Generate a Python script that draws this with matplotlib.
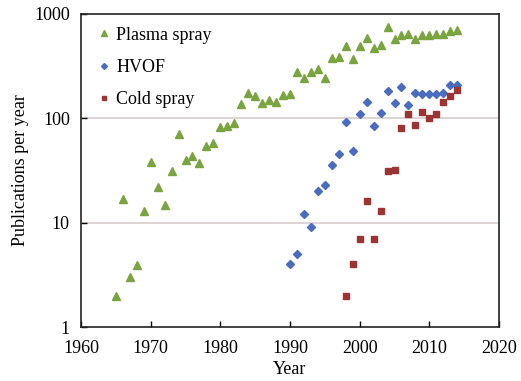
import numpy as np
import matplotlib.pyplot as plt
from matplotlib.ticker import FixedLocator, NullLocator

plt.rcParams['font.family'] = ['Liberation Serif', 'DejaVu Serif']

# publications per year, by process
plasma_years = list(range(1965, 2015))
plasma_counts = [2.0, 17, 3.0, 3.9, 12.8, 38, 22, 14.8, 31, 70,
                 40, 44, 37, 54, 58, 83, 84, 91, 137, 175,
                 163, 141, 150, 143, 167, 170, 280, 245, 280, 297,
                 242, 380, 385, 497, 372, 495, 589, 474, 503, 745,
                 575, 631, 638, 571, 626, 626, 645, 645, 683, 698]

hvof_years = list(range(1990, 2015))
hvof_counts = [4.0, 5.0, 12, 9.0, 20, 23, 36, 46, 93, 49,
               109, 143, 84, 112, 184, 140, 199, 135, 174, 172,
               172, 172, 176, 209, 210]

cold_years = list(range(1998, 2015))
cold_counts = [2.0, 4.0, 7.0, 16, 7.0, 13, 31, 32, 81, 109,
               86, 114, 100, 111, 143, 162, 186]

fig = plt.figure(figsize=(5.21, 3.81), dpi=100)
ax = fig.add_axes([0.1555, 0.1417, 0.8023, 0.8216])

ax.plot(plasma_years, plasma_counts, ls='none', marker='^', ms=5.5,
        color='#7aa440', label='Plasma spray')
ax.plot(hvof_years, hvof_counts, ls='none', marker='D', ms=3.8,
        color='#4a6cbf', label='HVOF')
ax.plot(cold_years, cold_counts, ls='none', marker='s', ms=4.3,
        color='#9c3434', label='Cold spray')

ax.set_yscale('log')
ax.set_xlim(1960, 2020)
ax.set_ylim(1, 1000)
ax.set_xticks(range(1960, 2021, 10))
ax.yaxis.set_major_locator(FixedLocator([1, 10, 100, 1000]))
ax.yaxis.set_minor_locator(NullLocator())
ax.set_yticklabels(['1', '10', '100', '1000'])
ax.tick_params(direction='in', length=4, width=1, labelsize=13)
ax.tick_params(axis='x', pad=9)
ax.tick_params(axis='y', pad=8)

for v in (10, 100):
    ax.axhline(v, color='#d8cccc', lw=1.2, zorder=0)

for s in ax.spines.values():
    s.set_linewidth(1.2)
    s.set_color('#222222')

ax.set_xlabel('Year', fontsize=13, labelpad=3)
ax.set_ylabel('Publications per year', fontsize=13, labelpad=4)

ax.legend(loc='upper left', frameon=False, fontsize=13, handletextpad=0.05,
          labelspacing=0.85, borderaxespad=0.3, handlelength=1.2,
          markerscale=0.8, bbox_to_anchor=(0.0, 1.0))

fig.savefig('out.png', dpi=100)
